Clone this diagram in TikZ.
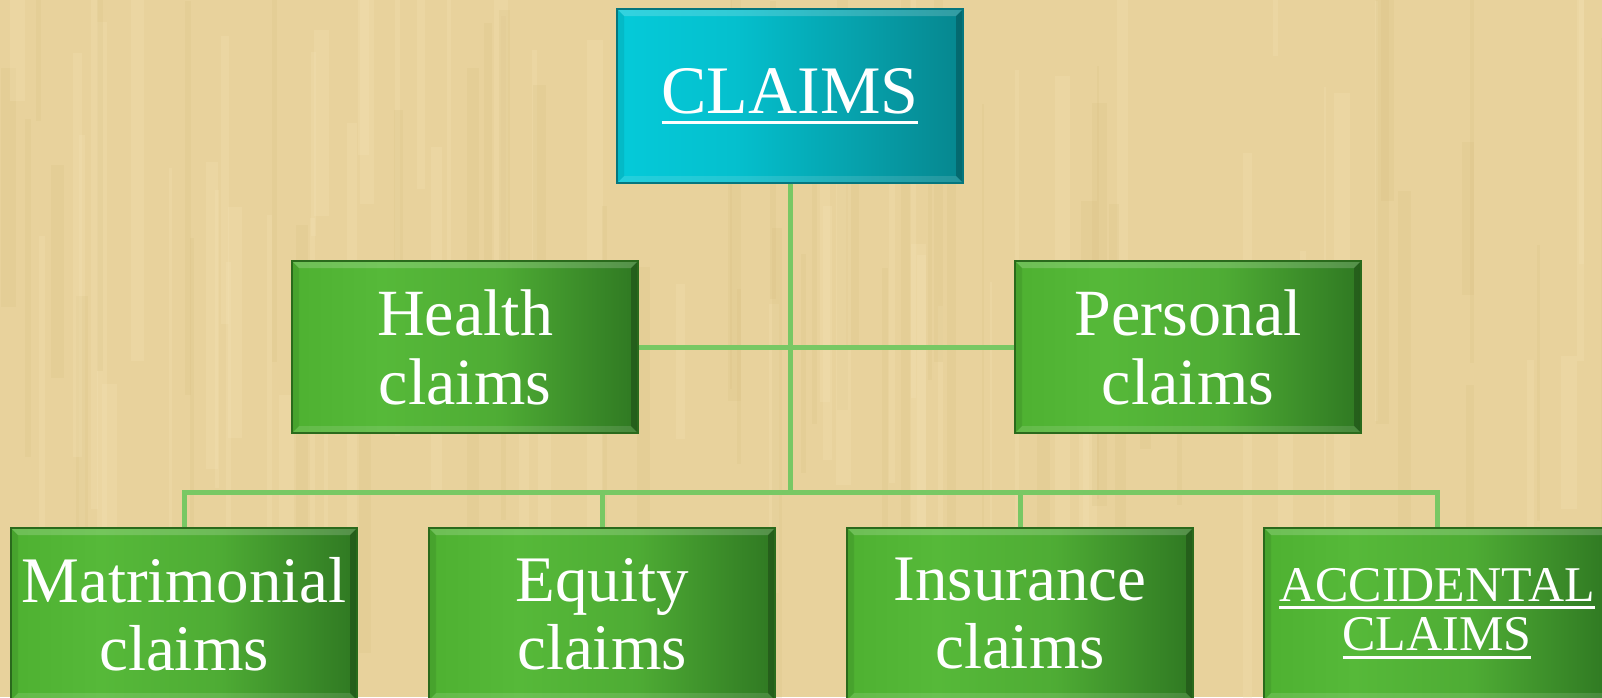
\documentclass[tikz,border=0pt]{standalone}
\usepackage{fontspec}
\setmainfont{Liberation Serif}
\definecolor{bg}{HTML}{E8D29C}
\definecolor{bgL}{HTML}{F3E2B4}
\definecolor{bgD}{HTML}{D4BC7E}
\definecolor{gLeft}{HTML}{4EB131}
\definecolor{gMid}{HTML}{56B939}
\definecolor{gRight}{HTML}{2F7822}
\definecolor{gEdge}{HTML}{2A6A1C}
\definecolor{tLeft}{HTML}{05CAD9}
\definecolor{tRight}{HTML}{06868E}
\definecolor{tEdge}{HTML}{05767E}
\definecolor{conncol}{HTML}{78C864}
\newcommand\myul[2]{\leavevmode\vtop{\hbox{#1}\kern#2\hrule height 3pt}}
\pgfdeclarehorizontalshading{greensh}{100bp}{color(0bp)=(gLeft); color(25bp)=(gLeft); color(38bp)=(gMid); color(55bp)=(gMid!80!gRight); color(75bp)=(gRight); color(100bp)=(gRight)}
\pgfdeclarehorizontalshading{tealsh}{100bp}{color(0bp)=(tLeft); color(25bp)=(tLeft); color(42bp)=(tLeft!85!tRight); color(75bp)=(tRight); color(100bp)=(tRight)}
\begin{document}
\begin{tikzpicture}[x=1pt,y=-1pt,
  bevel/.style={path picture={
    \fill[white,opacity=0.18] (path picture bounding box.north west) -- (path picture bounding box.north east)
      -- ([xshift=-7pt,yshift=-7pt]path picture bounding box.north east) -- ([xshift=7pt,yshift=-7pt]path picture bounding box.north west) -- cycle;
    \fill[black,opacity=0.22] (path picture bounding box.north east) -- (path picture bounding box.south east)
      -- ([xshift=-7pt,yshift=7pt]path picture bounding box.south east) -- ([xshift=-7pt,yshift=-7pt]path picture bounding box.north east) -- cycle;
    \fill[white,opacity=0.12] (path picture bounding box.south west) -- (path picture bounding box.south east)
      -- ([xshift=-7pt,yshift=7pt]path picture bounding box.south east) -- ([xshift=7pt,yshift=7pt]path picture bounding box.south west) -- cycle;
    \fill[black,opacity=0.08] (path picture bounding box.north west) -- (path picture bounding box.south west)
      -- ([xshift=7pt,yshift=7pt]path picture bounding box.south west) -- ([xshift=7pt,yshift=-7pt]path picture bounding box.north west) -- cycle;
  }},
  basebox/.style={rectangle, minimum width=346pt, minimum height=172pt, inner sep=0pt,
    text=white, align=center, line width=1.2pt, bevel},
  greenbox/.style={basebox, shading=greensh, draw=gEdge,
    font=\fontsize{66}{69}\selectfont},
  lowbox/.style={greenbox, font=\fontsize{65}{68}\selectfont},
  tealbox/.style={basebox, minimum height=174pt, shading=tealsh, draw=tEdge,
    font=\fontsize{68}{70}\selectfont},
  conn/.style={draw=conncol, line width=5pt}
]
\clip (0,0) rectangle (1602,697);
\fill[bg] (0,0) rectangle (1602,697);
\pgfmathsetseed{11}
\foreach \i in {1,...,110}{
  \pgfmathsetmacro\xx{rnd*1602}
  \pgfmathsetmacro\ww{2+rnd*14}
  \pgfmathsetmacro\yy{rnd*500-100}
  \pgfmathsetmacro\hh{150+rnd*450}
  \pgfmathsetmacro\cc{rnd}
  \ifdim\cc pt<0.5pt
    \fill[bgL,opacity=0.28] (\xx,\yy) rectangle ++(\ww,\hh);
  \else
    \fill[bgD,opacity=0.18] (\xx,\yy) rectangle ++(\ww,\hh);
  \fi
}

\coordinate (bus) at (790,492);

\node[tealbox] (claims) at (790,96) {\myul{CLAIMS}{7pt}};
\node[greenbox] (health) at (465,347) {Health\\claims};
\node[greenbox] (personal) at (1188,347) {Personal\\claims};
\node[lowbox] (mat) at (184,614) {Matrimonial\\claims};
\node[lowbox] (eq) at (602,614) {Equity\\claims};
\node[lowbox] (ins) at (1020,614) {Insurance\\claims};
\node[lowbox, font=\fontsize{50}{49}\selectfont] (acc) at (1437,614) {\myul{ACCIDENTAL}{4pt}\\\myul{CLAIMS}{5pt}};

\draw[conn] (claims.south) -- (bus);
\draw[conn] (health.east) -- (personal.west);
\draw[conn] (mat.north) |- (bus) -| (acc.north);
\draw[conn] (eq.north) -- (eq.north |- bus);
\draw[conn] (ins.north) -- (ins.north |- bus);
\end{tikzpicture}
\end{document}
